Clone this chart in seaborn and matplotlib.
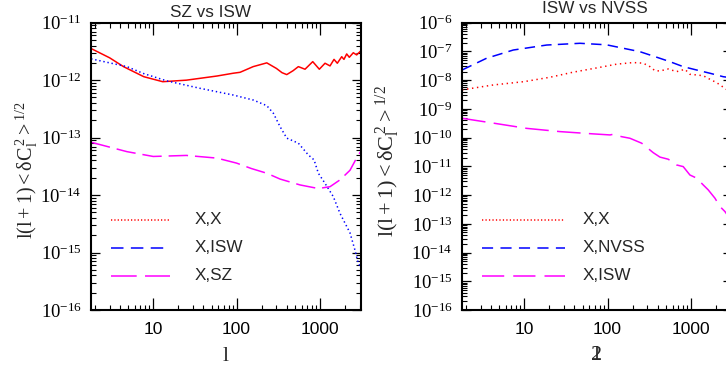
import numpy as np
import pandas as pd
import matplotlib
matplotlib.use("Agg")
import matplotlib.pyplot as plt
import matplotlib.ticker as mticker
from matplotlib.lines import Line2D
import seaborn as sns

# ---------------- data ----------------
# Left panel: "SZ vs ISW"
L_XX_L = [1.8, 3, 4.4, 7.7, 13, 25, 58, 91, 110, 158, 230, 300, 350, 399, 475, 550,
          661, 818, 981, 1148, 1318, 1472, 1612, 1820, 1937, 2088, 2244, 2506, 2750, 3100]
V_XX_L = [3.55e-12, 2.45e-12, 1.72e-12, 1.15e-12, 9.4e-13, 1.0e-12, 1.18e-12, 1.32e-12,
          1.37e-12, 1.72e-12, 2.0e-12, 1.6e-12, 1.35e-12, 1.25e-12, 1.46e-12, 1.72e-12,
          1.55e-12, 2.1e-12, 1.55e-12, 1.97e-12, 1.77e-12, 2.3e-12, 1.97e-12, 2.56e-12,
          2.3e-12, 2.86e-12, 2.5e-12, 3.0e-12, 2.75e-12, 3.26e-12]

L_XISW_L = [1.8, 4.84, 7.7, 14.6, 36.6, 91.6, 159, 230, 276, 332, 399, 550, 724, 848,
            955, 1148, 1443, 1737, 2287, 2625, 2877, 3100]
V_XISW_L = [2.35e-12, 1.72e-12, 1.3e-12, 9.7e-13, 7.2e-13, 5.5e-13, 4.5e-13, 3.6e-13,
            2.65e-13, 1.55e-13, 9.8e-14, 8.0e-14, 5.0e-14, 4.1e-14, 2.4e-14, 1.6e-14,
            9.4e-15, 4.8e-15, 2.2e-15, 1.1e-15, 6.5e-16, 5.5e-16]

L_XSZ_L = [1.8, 4.84, 10, 25, 58, 100, 150, 230, 332, 578, 955, 1318, 1737, 2287, 2877, 3100]
V_XSZ_L = [8.3e-14, 5.7e-14, 4.7e-14, 4.9e-14, 4.4e-14, 3.6e-14, 2.9e-14, 2.4e-14,
           1.9e-14, 1.5e-14, 1.3e-14, 1.4e-14, 1.84e-14, 2.7e-14, 5.0e-14, 5.8e-14]

# Right panel: "ISW vs NVSS"
L_XX_R = [1.8, 4.25, 10, 20.3, 38.7, 81, 128, 203, 267, 322, 369, 424, 533, 671, 845,
          970, 1166, 1400, 1686, 2028, 2548, 3100]
V_XX_R = [4.6e-9, 6.8e-9, 8.9e-9, 1.26e-8, 1.9e-8, 2.8e-8, 3.6e-8, 4.1e-8, 3.9e-8,
          2.95e-8, 2.14e-8, 2.09e-8, 2.45e-8, 1.98e-8, 2.39e-8, 1.6e-8, 1.52e-8,
          1.43e-8, 1.07e-8, 8.2e-9, 5.2e-9, 3.5e-9]

L_XNVSS_R = [1.8, 3.54, 7.4, 18.6, 46.6, 97, 154, 244, 387, 559, 806, 1166, 1686, 2432, 3100]
V_XNVSS_R = [2.26e-8, 5.8e-8, 1.12e-7, 1.67e-7, 1.92e-7, 1.7e-7, 1.29e-7, 9.8e-8,
             6.3e-8, 4.4e-8, 2.95e-8, 2.26e-8, 1.74e-8, 1.32e-8, 1.2e-8]

L_XISW_R = [1.8, 4.25, 10.7, 26.8, 67, 107, 117, 147, 185, 256, 352, 424, 533, 671, 806,
            970, 1166, 1400, 1607, 1935, 2223, 2551, 3100]
V_XISW_R = [4.7e-10, 3.2e-10, 2.1e-10, 1.62e-10, 1.35e-10, 1.24e-10, 1.31e-10, 1.08e-10,
            9.5e-11, 6.4e-11, 3.0e-11, 2.1e-11, 1.77e-11, 1.12e-11, 9.8e-12, 5.0e-12,
            3.9e-12, 2.26e-12, 1.52e-12, 7.8e-13, 4.0e-13, 2.67e-13, 1.2e-13]

XLIM = (1.78, 3100)
XTICKS = [10, 100, 1000]
XTICKLABELS = ["10", "100", "1000"]
YEXP_L = [-16, -15, -14, -13, -12, -11]
YEXP_R = [-16, -15, -14, -13, -12, -11, -10, -9, -8, -7, -6]

TITLES = ["SZ vs ISW", "ISW vs NVSS"]
LEG_L = ["X,X", "X,ISW", "X,SZ"]
LEG_R = ["X,X", "X,NVSS", "X,ISW"]
YLABEL = r"$\mathrm{l(l+1)<\delta C_l^{\,2}>^{1/2}}$"

RED, BLUE, MAG = "#ff0000", "#0000ff", "#ff00ff"

# ---------------- style ----------------
sns.set_style("ticks")
plt.rcParams.update({
    "font.family": ["Liberation Sans", "DejaVu Sans"],
    "mathtext.fontset": "custom",
    "mathtext.rm": "Liberation Serif",
    "mathtext.it": "Liberation Serif:italic",
    "mathtext.bf": "Liberation Serif:bold",
    "lines.scale_dashes": False,
    "axes.linewidth": 1.5,
    "axes.edgecolor": "black",
    "xtick.direction": "in",
    "ytick.direction": "in",
    "xtick.top": True,
    "xtick.bottom": True,
    "ytick.left": True,
    "ytick.right": True,
    "xtick.color": "black",
    "ytick.color": "black",
    "xtick.major.size": 8.4,
    "ytick.major.size": 6.8,
    "xtick.minor.size": 3.8,
    "ytick.minor.size": 3.5,
    "xtick.major.width": 0.9,
    "ytick.major.width": 0.9,
    "xtick.minor.width": 0.8,
    "ytick.minor.width": 0.8,
    "xtick.minor.visible": True,
    "ytick.minor.visible": True,
})

fig = plt.figure(figsize=(7.26, 3.71), dpi=100)
W, H = 726.0, 371.0
axL = fig.add_axes([90.7 / W, 61 / H, 270.3 / W, 287.3 / H])
axR = fig.add_axes([461.7 / W, 61 / H, 270.3 / W, 287.3 / H])


def draw(ax, l, v, color, ls, lw=1.1):
    df = pd.DataFrame({"l": l, "v": v})
    sns.lineplot(data=df, x="l", y="v", ax=ax, color=color, linewidth=lw,
                 linestyle=ls, estimator=None, sort=False, legend=False)


for ax, yexp in ((axL, YEXP_L), (axR, YEXP_R)):
    ax.set_xscale("log")
    ax.set_yscale("log")
    ax.set_xlim(*XLIM)
    ax.set_ylim(10.0 ** yexp[0], 10.0 ** yexp[-1])

draw(axL, L_XX_L, V_XX_L, RED, "-")
draw(axL, L_XISW_L, V_XISW_L, BLUE, (0, (1.0, 2.0)))
draw(axL, L_XSZ_L, V_XSZ_L, MAG, (0, (14, 5)))

draw(axR, L_XX_R, V_XX_R, RED, (0, (1.0, 2.6)))
draw(axR, L_XNVSS_R, V_XNVSS_R, BLUE, (0, (7.5, 4.5)))
draw(axR, L_XISW_R, V_XISW_R, MAG, (0, (17, 6)))

for ax, yexp in ((axL, YEXP_L), (axR, YEXP_R)):
    ax.set_xticks(XTICKS, labels=XTICKLABELS)
    ax.xaxis.set_minor_locator(mticker.LogLocator(base=10, subs=np.arange(2, 10), numticks=50))
    ax.xaxis.set_minor_formatter(mticker.NullFormatter())
    ax.yaxis.set_major_locator(mticker.FixedLocator([10.0 ** e for e in yexp]))
    ax.yaxis.set_major_formatter(mticker.LogFormatterSciNotation())
    ax.yaxis.set_minor_locator(mticker.LogLocator(base=10, subs=np.arange(2, 10), numticks=50))
    ax.yaxis.set_minor_formatter(mticker.NullFormatter())
    ax.tick_params(which="both", direction="in", top=True, right=True,
                   bottom=True, left=True, color="black")
    ax.tick_params(axis="x", which="major", length=8.4, width=0.9, pad=9, labelsize=12.5)
    ax.tick_params(axis="y", which="major", length=6.8, width=0.9, pad=6.5, labelsize=13.5,
                   labelfontfamily="Liberation Serif")
    ax.tick_params(which="minor", length=3.6, width=0.8)
    for s in ax.spines.values():
        s.set_visible(True)
        s.set_linewidth(1.5)
    ax.grid(False)

# titles
axL.set_title(TITLES[0], x=(210.3 - 90.7) / 270.3, y=(310 - 16.7) / 287.3, pad=0,
              va="baseline", fontsize=12.3, fontfamily="Liberation Sans")
axR.set_title(TITLES[1], x=(595 - 461.7) / 270.3, y=(310 - 13.3) / 287.3, pad=0,
              va="baseline", fontsize=12.3, fontfamily="Liberation Sans")

# y labels
axL.set_ylabel(YLABEL, fontsize=14.5, fontfamily="Liberation Serif")
axL.yaxis.set_label_coords(-0.237, 0.487)
axR.set_ylabel(YLABEL, fontsize=16, fontfamily="Liberation Serif")
axR.yaxis.set_label_coords(-0.2727, 0.517)
for ax in (axL, axR):
    ax.yaxis.label.set_va("center")
    ax.yaxis.label.set_ha("center")

# x labels
axL.set_xlabel("l", fontsize=16, fontfamily="Liberation Serif")
axL.xaxis.set_label_coords(0.5, -0.1625)
axR.set_xlabel("l", fontsize=16, fontfamily="Liberation Serif")
axR.xaxis.set_label_coords(0.4995, -0.157)
for ax in (axL, axR):
    ax.xaxis.label.set_va("center")
axR.text(0.4995, -0.157, "2", transform=axR.transAxes, ha="center", va="center",
         fontsize=16, fontfamily="Liberation Serif")

# legends (proxy handles; the legend styles differ from the plotted ones as in the reference)
hL = [Line2D([], [], color=RED, lw=1.1, linestyle=(0, (0.9, 1.5))),
      Line2D([], [], color=BLUE, lw=1.1, linestyle=(0, (9, 5.3))),
      Line2D([], [], color=MAG, lw=1.1, linestyle=(0, (18.5, 6)))]
hR = [Line2D([], [], color=RED, lw=1.1, linestyle=(0, (0.9, 1.6))),
      Line2D([], [], color=BLUE, lw=1.1, linestyle=(0, (8, 5.3))),
      Line2D([], [], color=MAG, lw=1.1, linestyle=(0, (16, 6.5)))]

fs = 12.3
for ax, h, labs, hl, tp in ((axL, hL, LEG_L, 59 / 17.1, 25 / 17.1),
                            (axR, hR, LEG_R, 83 / 17.1, 18 / 17.1)):
    ax.legend(h, labs, loc="upper left", bbox_to_anchor=(0.0751, 0.342), frameon=False,
              borderpad=0, borderaxespad=0, fontsize=fs, handlelength=hl,
              handletextpad=tp, labelspacing=0.76, handleheight=0.0)

fig.savefig("out.png", dpi=100)
